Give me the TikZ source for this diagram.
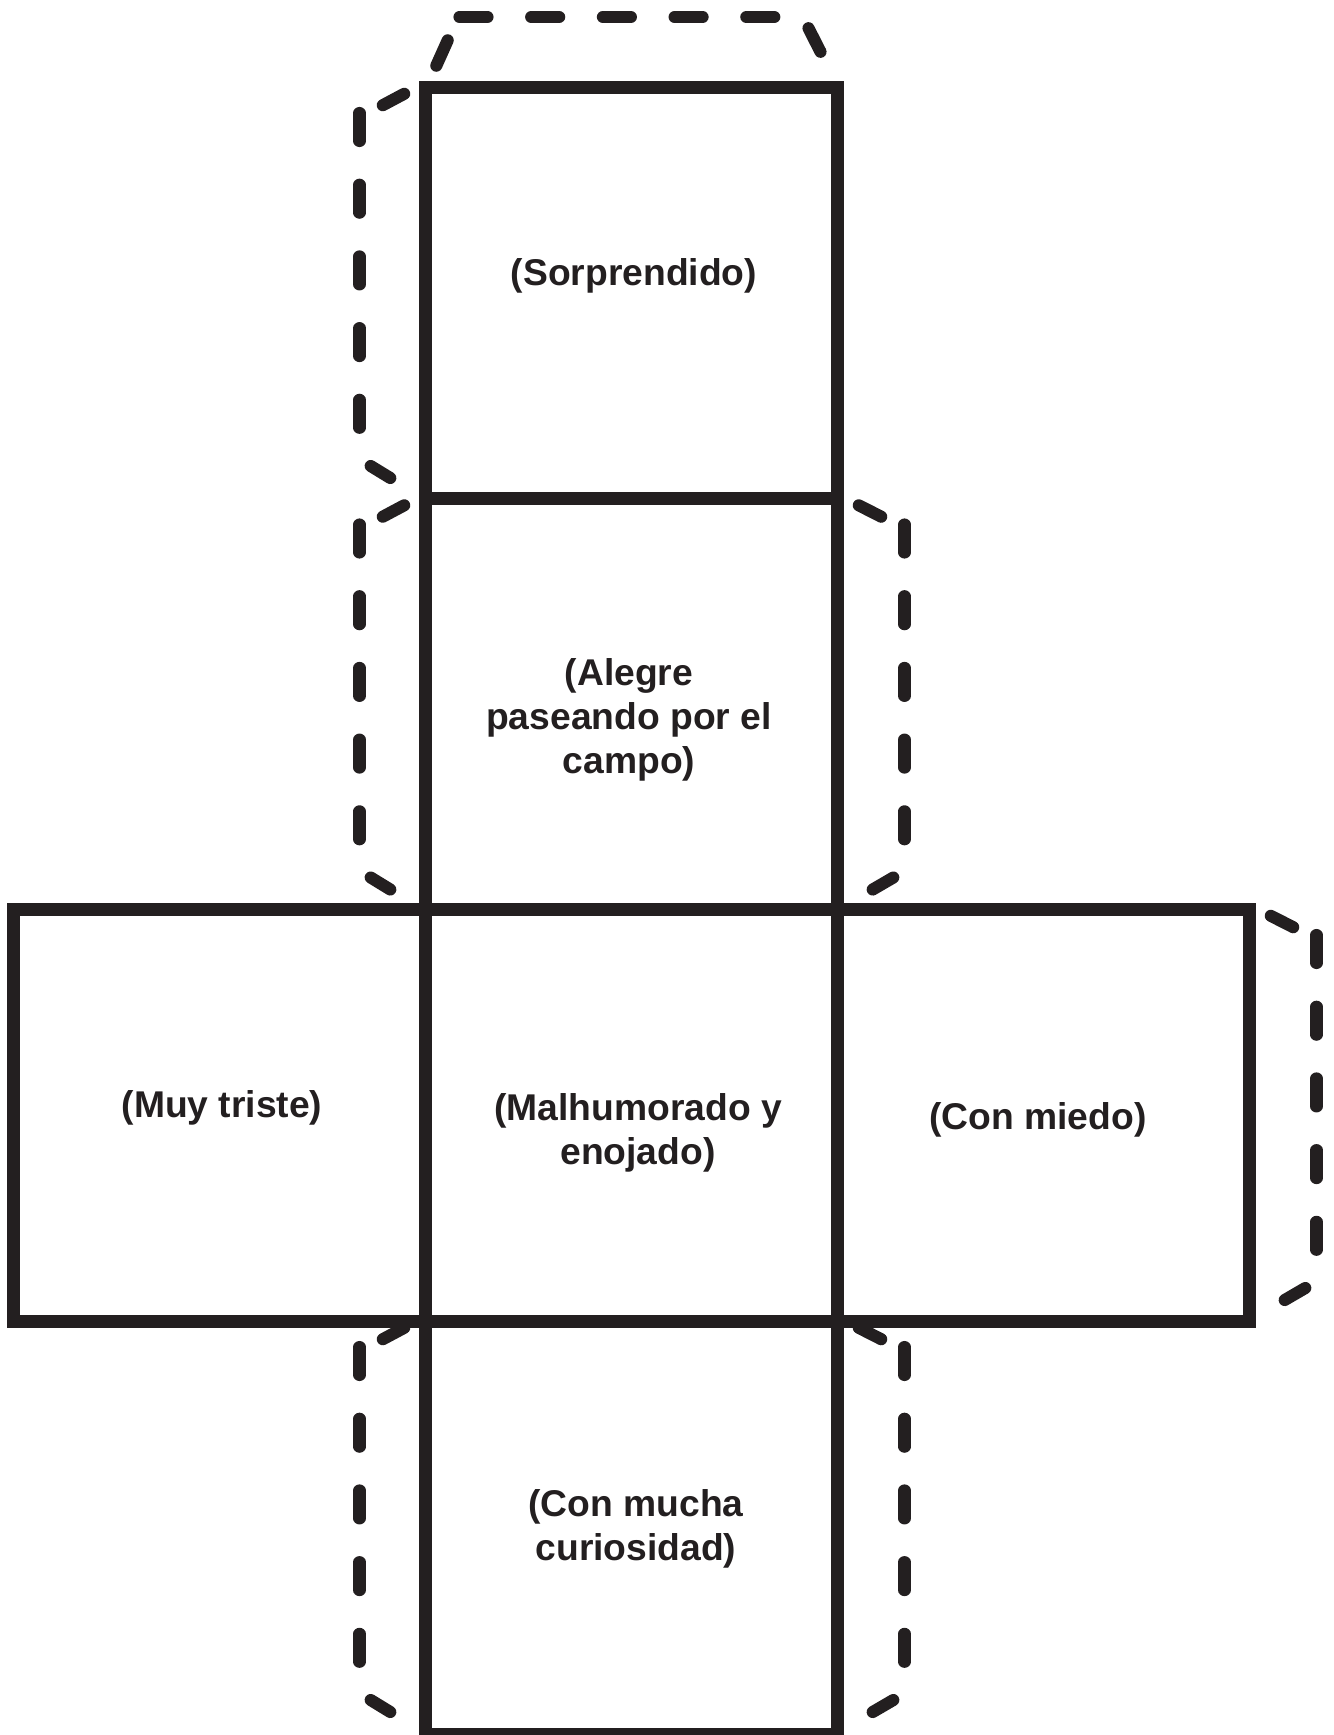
\documentclass[tikz,border=0pt]{standalone}
\usepackage{fontspec}
\setmainfont{Liberation Sans}
\definecolor{ink}{HTML}{231F20}
\tikzset{
  facebox/.style={draw=ink, line width=7.4pt, line join=miter},
  flapdash/.style={draw=ink, line width=6.9pt, line cap=round},
  facetext/.style={font=\fontsize{21.2}{25.2}\selectfont\bfseries, align=center, text=ink, inner sep=0pt}
}
% flap along a side: start (#1,#2), along-side unit (#3,#4), outward unit (#5,#6),
% shift of the straight run along the side #7, outward depth #8
\newcommand\myflap[8]{%
  \def\flpt##1##2{({#1+(##1)*(#3)+(##2)*(#5)},{#2+(##1)*(#4)+(##2)*(#6)})}%
  \draw[flapdash] \flpt{6.8+#7/2}{21.3} -- \flpt{18.2+#7/2}{43.7+#8-67};
  \foreach \k in {0,...,4}{\draw[flapdash] \flpt{26+#7+71.7*\k}{#8} -- \flpt{54+#7+71.7*\k}{#8};}
  \draw[flapdash] \flpt{379+#7/2}{55.8+#8-67} -- \flpt{391+#7/2}{35.2};
}
\begin{document}
\begin{tikzpicture}[x=0.02cm, y=-0.02cm]
\useasboundingbox (0,0) rectangle (1333,1735);
% faces
\draw[facebox] (425.5,87) rectangle (837.5,498.5);
\draw[facebox] (425.5,498.5) rectangle (837.5,909);
\draw[facebox] (13.5,909) rectangle (425.5,1321);
\draw[facebox] (425.5,909) rectangle (837.5,1321);
\draw[facebox] (837.5,909) rectangle (1249.5,1321);
\draw[facebox] (425.5,1321) rectangle (837.5,1734);
% flaps
\myflap{425.5}{87}{1}{0}{0}{-1}{8}{70}
\myflap{425.5}{87}{0}{1}{-1}{0}{0}{66}
\myflap{425.5}{498.5}{0}{1}{-1}{0}{0}{66}
\myflap{837.5}{498.5}{0}{1}{1}{0}{0}{67}
\myflap{1249.5}{909}{0}{1}{1}{0}{0}{67}
\myflap{425.5}{1321}{0}{1}{-1}{0}{0}{66}
\myflap{837.5}{1321}{0}{1}{1}{0}{0}{67}
% texts
\node[facetext] (t1) at (634,275.5) {(Sorprendido)};
\node[facetext] (t2) at (629,720) {(Alegre\\paseando por el\\campo)};
\node[facetext] (t3) at (222,1107.5) {(Muy triste)};
\node[facetext] (t4) at (638,1132.5) {(Malhumorado y\\enojado)};
\node[facetext] (t5) at (1038,1119.5) {(Con miedo)};
\node[facetext] (t6) at (636,1528.5) {(Con mucha\\curiosidad)};
\end{tikzpicture}
\end{document}
